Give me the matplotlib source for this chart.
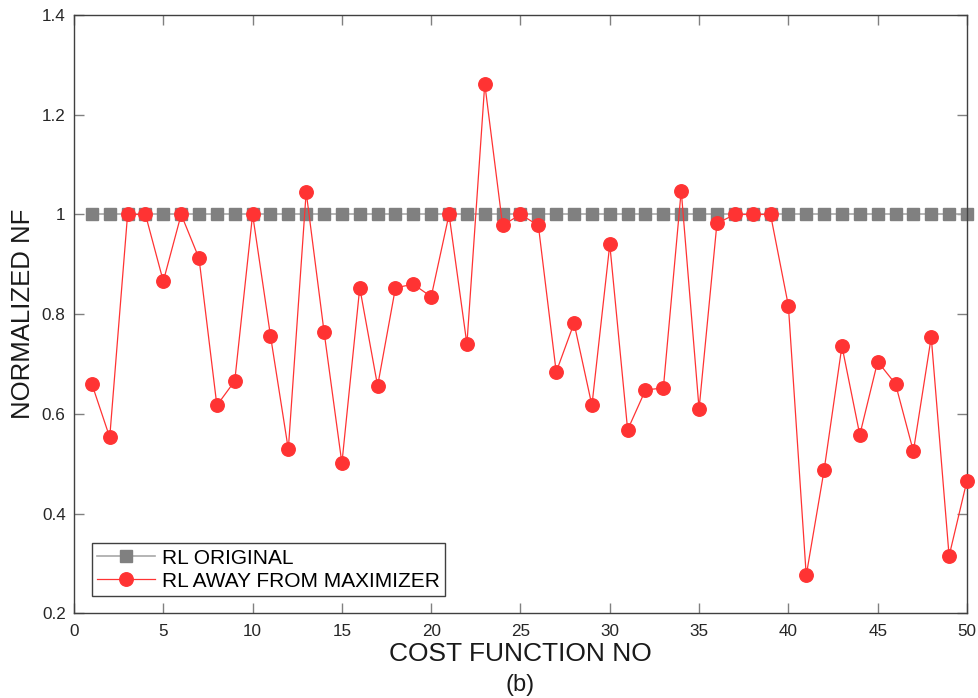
import matplotlib
matplotlib.use("Agg")
import matplotlib.pyplot as plt
import numpy as np

plt.rcParams['font.family'] = ['Liberation Sans', 'DejaVu Sans']

cost_fn = list(range(1, 51))
rl_original = [1.0] * 50
rl_away = [0.660, 0.553, 1.000, 1.000, 0.866, 1.000, 0.912, 0.617, 0.666, 1.000,
           0.757, 0.529, 1.045, 0.765, 0.501, 0.853, 0.656, 0.853, 0.860, 0.835,
           1.000, 0.740, 1.262, 0.978, 1.000, 0.978, 0.684, 0.782, 0.617, 0.940,
           0.568, 0.648, 0.652, 1.048, 0.610, 0.982, 1.000, 1.000, 1.000, 0.817,
           0.276, 0.487, 0.736, 0.558, 0.705, 0.660, 0.525, 0.754, 0.315, 0.466]
xticks = [0, 5, 10, 15, 20, 25, 30, 35, 40, 45, 50]
yticks = [0.2, 0.4, 0.6, 0.8, 1.0, 1.2, 1.4]
ytick_labels = ['0.2', '0.4', '0.6', '0.8', '1', '1.2', '1.4']

fig = plt.figure(figsize=(9.79, 6.98), dpi=100)
ax = fig.add_axes([0.0756, 0.1213, 0.9121, 0.8572])

ax.plot(cost_fn, rl_original, color='#a8a8a8', linewidth=1.2, marker='s',
        markersize=8, markerfacecolor='#808080', markeredgecolor='#808080',
        label='RL ORIGINAL', clip_on=False, zorder=2)
ax.plot(cost_fn, rl_away, color='#ff3333', linewidth=0.9, marker='o',
        markersize=9.7, markerfacecolor='#ff3333', markeredgecolor='#ff3333',
        label='RL AWAY FROM MAXIMIZER', clip_on=False, zorder=3)

ax.set_xlim(0, 50)
ax.set_ylim(0.2, 1.4)
ax.set_xticks(xticks)
ax.set_xticklabels([str(t) for t in xticks])
ax.set_yticks(yticks)
ax.set_yticklabels(ytick_labels)
ax.tick_params(direction='in', length=7, width=1, color='#808080',
               top=True, right=True, labelsize=12.3, labelcolor='#262626')
ax.tick_params(axis='x', pad=8)
ax.tick_params(axis='y', pad=6)
for s in ax.spines.values():
    s.set_color('#404040')
    s.set_linewidth(1.0)

ax.set_xlabel('COST FUNCTION NO', fontsize=19, color='#1a1a1a', labelpad=2)
ax.set_ylabel('NORMALIZED NF', fontsize=18.5, color='#1a1a1a', labelpad=5)
fig.text(0.5 * (0.0756 + 0.9877), 1 - 685 / 698, '(b)', ha='center', va='center',
         fontsize=17, color='#1a1a1a')

leg = ax.legend(loc='lower left', bbox_to_anchor=(0.02, 0.029), fontsize=15,
                handlelength=2.8, handletextpad=0.3, borderpad=0.25,
                labelspacing=0.2, fancybox=False, framealpha=1,
                edgecolor='#404040', borderaxespad=0)
leg.get_frame().set_linewidth(1.0)

fig.savefig('out.png', dpi=100)
